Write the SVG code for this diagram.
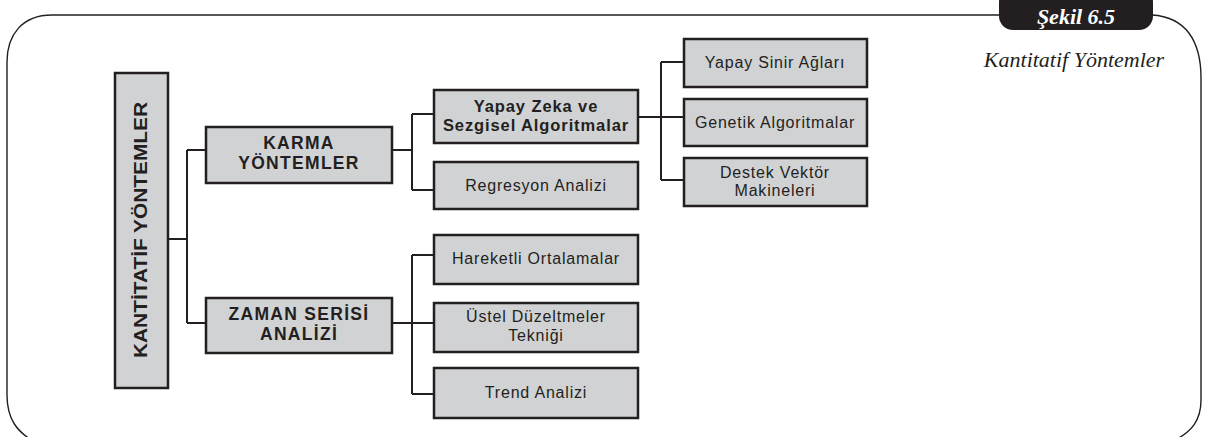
<svg xmlns="http://www.w3.org/2000/svg" width="1211" height="437" viewBox="0 0 1211 437">
<style>
.box{fill:#d1d2d4;stroke:#231f20;stroke-width:2.5}
.t{font-family:"Liberation Sans",Arial,sans-serif;font-size:16px;letter-spacing:0.8px;fill:#231f20;text-anchor:middle}
.b{font-weight:bold;font-size:16.5px;letter-spacing:0.9px}
.big{font-size:17.5px;letter-spacing:1.3px}
.conn{fill:none;stroke:#231f20;stroke-width:2}
.frame{fill:none;stroke:#231f20;stroke-width:1.4}
</style>
<rect width="1211" height="437" fill="#fff"/>
<g id="frame">
<path class="frame" d="M999 15 L52 15 C22 15 7 35 7 62 L7 395 C7 420 18 432 33 441"/>
<path class="frame" d="M1152 15 C1185 17 1201 40 1201 78 L1201 400 C1201 420 1192 432 1173 441"/>
<rect x="999" y="-12" width="154" height="42" rx="14" fill="#231f20"/>
<text x="1076" y="24" font-family="Liberation Serif,serif" font-style="italic" font-weight="bold" font-size="22" fill="#fff" text-anchor="middle">Şekil 6.5</text>
<text x="1074" y="67" font-family="Liberation Serif,serif" font-style="italic" font-size="22" fill="#231f20" text-anchor="middle">Kantitatif Yöntemler</text>
</g>
<g id="connectors">
<path class="conn" d="M168 239 H187 M187 150 V323 M187 150 H206 M187 323 H206"/>
<path class="conn" d="M392 150 H412 M412 114 V190 M412 114 H434 M412 190 H434"/>
<path class="conn" d="M638 117 H684 M661 62 V180 M661 62 H684 M661 180 H684"/>
<path class="conn" d="M392 323 H434 M412 255 V394 M412 255 H434 M412 394 H434"/>
</g>
<g id="n-root">
<rect class="box" x="115" y="73" width="53" height="315"/>
<text class="t b" style="font-size:19px;letter-spacing:0" transform="translate(147 230) rotate(-90)" textLength="256" lengthAdjust="spacingAndGlyphs">KANTİTATİF YÖNTEMLER</text>
</g>
<g id="n-karma">
<rect class="box" x="206" y="127" width="186" height="56"/>
<text class="t b big" x="299" y="149">KARMA</text>
<text class="t b big" x="299" y="169">YÖNTEMLER</text>
</g>
<g id="n-zaman">
<rect class="box" x="206" y="298" width="186" height="55"/>
<text class="t b big" x="299" y="320">ZAMAN SERİSİ</text>
<text class="t b big" x="299" y="340">ANALİZİ</text>
</g>
<g id="n-yz">
<rect class="box" x="434" y="90" width="204" height="53"/>
<text class="t b" x="536" y="112">Yapay Zeka ve</text>
<text class="t b" x="536" y="131">Sezgisel Algoritmalar</text>
</g>
<g id="n-reg">
<rect class="box" x="434" y="162" width="204" height="47"/>
<text class="t" x="536" y="191">Regresyon Analizi</text>
</g>
<g id="n-ysa">
<rect class="box" x="684" y="39" width="183" height="48"/>
<text class="t" x="775" y="68">Yapay Sinir Ağları</text>
</g>
<g id="n-gen">
<rect class="box" x="684" y="99" width="183" height="47"/>
<text class="t" x="775" y="128">Genetik Algoritmalar</text>
</g>
<g id="n-dvm">
<rect class="box" x="684" y="158" width="183" height="48"/>
<text class="t" x="775" y="177.5">Destek Vektör</text>
<text class="t" x="775" y="196">Makineleri</text>
</g>
<g id="n-har">
<rect class="box" x="434" y="235" width="204" height="49"/>
<text class="t" x="536" y="264">Hareketli Ortalamalar</text>
</g>
<g id="n-ust">
<rect class="box" x="434" y="303" width="204" height="49"/>
<text class="t" x="536" y="322">Üstel Düzeltmeler</text>
<text class="t" x="536" y="341">Tekniği</text>
</g>
<g id="n-trend">
<rect class="box" x="434" y="368" width="204" height="50"/>
<text class="t" x="536" y="398">Trend Analizi</text>
</g>
</svg>
